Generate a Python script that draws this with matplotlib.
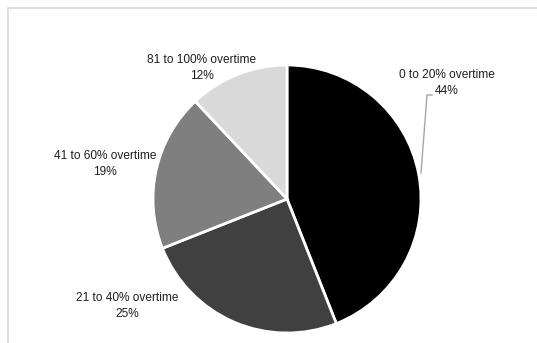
import matplotlib
matplotlib.use("Agg")
import matplotlib.pyplot as plt
from matplotlib.patches import Rectangle

categories = ["0 to 20% overtime", "21 to 40% overtime", "41 to 60% overtime", "81 to 100% overtime"]
shares = [44, 25, 19, 12]
colors = ["#000000", "#404040", "#7f7f7f", "#d9d9d9"]

W, H = 537, 343
fig = plt.figure(figsize=(W / 100, H / 100), dpi=100)
ax = fig.add_axes([0, 0, 1, 1])

# chart frame (open to the right and bottom)
ax.add_patch(Rectangle((7.5, -5), W + 10, H - 7.5 + 5, fill=False,
                       edgecolor="#d9d9d9", linewidth=1.2))

cx, cy, r = 287, H - 199, 134
ax.pie(shares, colors=colors, startangle=90, counterclock=False,
       center=(cx, cy), radius=r, frame=True,
       wedgeprops=dict(edgecolor="white", linewidth=2))
ax.set_xlim(0, W)
ax.set_ylim(0, H)
ax.axis("off")

label_pos = [(447, 83), (127, 306), (105, 164), (202, 68)]
for name, val, (x, y) in zip(categories, shares, label_pos):
    ax.text(x, H - y, f"{name}\n{val}%", ha="center", va="center",
            fontsize=8.6, family="Liberation Sans", color="#1e1e1e",
            linespacing=1.35)

# leader line for the largest slice
ax.plot([432, 427, 421], [H - 95, H - 95, H - 173], color="#a6a6a6", linewidth=1)

fig.savefig("out.png", dpi=100)
